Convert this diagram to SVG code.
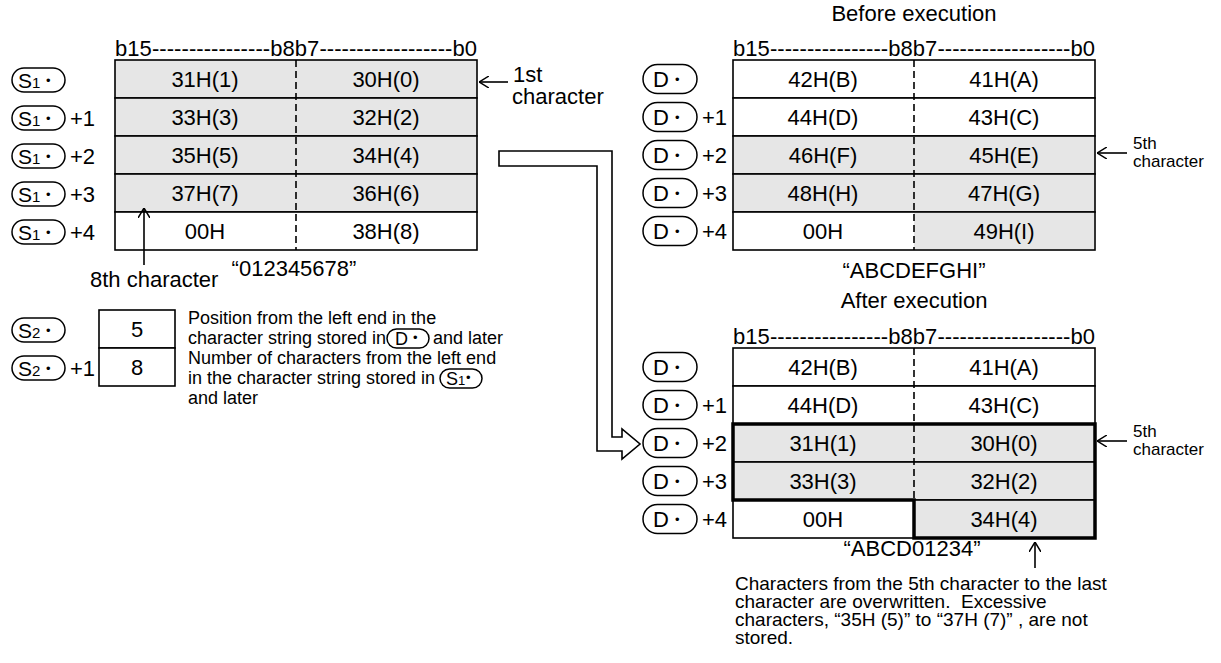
<svg xmlns="http://www.w3.org/2000/svg" width="1221" height="663" viewBox="0 0 1221 663">
<style>
text{font-family:"Liberation Sans",Arial,Helvetica,sans-serif;fill:#000}
.c{font-size:22px;text-anchor:middle}
.l{font-size:22px}
.sl{font-size:21px}
.d{font-size:18px}
.p{font-size:19px}
.s{font-size:17px}
.dot{font-size:13px}
.cell{stroke:#000;stroke-width:1.6}
.g{fill:#e6e6e6}
.w{fill:#fff}
.mid{stroke:#000;stroke-width:1.6;stroke-dasharray:7 4;fill:none}
.st{fill:#fff;stroke:#000;stroke-width:1.5}
.ln{stroke:#000;stroke-width:1.6;fill:none}
.bold{fill:none;stroke:#000;stroke-width:3.5;stroke-linejoin:miter}
</style>
<defs>
<marker id="ah" viewBox="0 0 10 12" refX="10" refY="6" markerWidth="10" markerHeight="12" orient="auto" markerUnits="userSpaceOnUse">
<path d="M0,0 L10,6 L0,12" fill="none" stroke="#000" stroke-width="1.5"/>
</marker>
</defs>

<g id="source-table">
<text class="l" x="115" y="56" textLength="362" lengthAdjust="spacing">b15----------------b8b7------------------b0</text>
<rect class="cell g" x="115" y="60" width="362" height="38"/>
<rect class="cell g" x="115" y="98" width="362" height="38"/>
<rect class="cell g" x="115" y="136" width="362" height="38"/>
<rect class="cell g" x="115" y="174" width="362" height="38"/>
<rect class="cell w" x="115" y="212" width="362" height="38"/>
<line class="mid" x1="296" y1="60" x2="296" y2="250"/>
<text class="c" x="205" y="87">31H(1)</text><text class="c" x="386" y="87">30H(0)</text>
<text class="c" x="205" y="125">33H(3)</text><text class="c" x="386" y="125">32H(2)</text>
<text class="c" x="205" y="163">35H(5)</text><text class="c" x="386" y="163">34H(4)</text>
<text class="c" x="205" y="201">37H(7)</text><text class="c" x="386" y="201">36H(6)</text>
<text class="c" x="205" y="239">00H</text><text class="c" x="386" y="239">38H(8)</text>
<text class="c" x="294" y="276">“012345678”</text>
</g>

<g id="source-labels">
<rect class="st" x="12" y="68" width="53" height="24" rx="12"/>
<text class="sl" x="18" y="88">S<tspan font-size="15">1</tspan></text><text class="dot" x="46" y="85">•</text>
<rect class="st" x="12" y="106" width="53" height="24" rx="12"/>
<text class="sl" x="18" y="126">S<tspan font-size="15">1</tspan></text><text class="dot" x="46" y="123">•</text>
<text class="l" x="70" y="126">+1</text>
<rect class="st" x="12" y="144" width="53" height="24" rx="12"/>
<text class="sl" x="18" y="164">S<tspan font-size="15">1</tspan></text><text class="dot" x="46" y="161">•</text>
<text class="l" x="70" y="164">+2</text>
<rect class="st" x="12" y="182" width="53" height="24" rx="12"/>
<text class="sl" x="18" y="202">S<tspan font-size="15">1</tspan></text><text class="dot" x="46" y="199">•</text>
<text class="l" x="70" y="202">+3</text>
<rect class="st" x="12" y="220" width="53" height="24" rx="12"/>
<text class="sl" x="18" y="240">S<tspan font-size="15">1</tspan></text><text class="dot" x="46" y="237">•</text>
<text class="l" x="70" y="240">+4</text>
</g>

<g id="note-1st">
<text class="l" x="513" y="82">1st</text>
<text class="l" x="512" y="104">character</text>
</g>
<g id="note-8th">
<text class="l" x="90" y="287">8th character</text>
</g>

<g id="s2-block">
<rect class="st" x="12" y="318" width="53" height="24" rx="12"/>
<text class="sl" x="18" y="338">S<tspan font-size="15">2</tspan></text><text class="dot" x="46" y="335">•</text>
<rect class="st" x="12" y="356" width="53" height="24" rx="12"/>
<text class="sl" x="18" y="376">S<tspan font-size="15">2</tspan></text><text class="dot" x="46" y="373">•</text>
<text class="l" x="70" y="376">+1</text>
<rect class="cell w" x="99" y="310" width="76" height="38"/>
<rect class="cell w" x="99" y="348" width="76" height="38"/>
<text class="c" x="137" y="337">5</text>
<text class="c" x="137" y="375">8</text>
<text class="d" x="188" y="324">Position from the left end in the</text>
<text class="d" x="188" y="344">character string stored in</text>
<rect class="st" x="387" y="329" width="42" height="19" rx="9.5"/>
<text class="d" x="395" y="345">D</text><text class="dot" x="413" y="342" font-size="11">•</text>
<text class="d" x="433" y="344">and later</text>
<text class="d" x="188" y="364">Number of characters from the left end</text>
<text class="d" x="188" y="384">in the character string stored in</text>
<rect class="st" x="440" y="369" width="42" height="19" rx="9.5"/>
<text class="d" x="446" y="385">S<tspan font-size="13">1</tspan></text><text class="dot" x="466" y="382" font-size="11">•</text>
<text class="d" x="188" y="404">and later</text>
</g>

<g id="before-table">
<text class="c" x="914" y="21">Before execution</text>
<text class="l" x="733" y="56" textLength="362" lengthAdjust="spacing">b15----------------b8b7------------------b0</text>
<rect class="cell w" x="733" y="60" width="362" height="38"/>
<rect class="cell w" x="733" y="98" width="362" height="38"/>
<rect class="cell g" x="733" y="136" width="362" height="38"/>
<rect class="cell g" x="733" y="174" width="362" height="38"/>
<rect class="cell w" x="733" y="212" width="362" height="38"/>
<rect class="g" x="914" y="213" width="180" height="36"/>
<line class="mid" x1="914" y1="60" x2="914" y2="250"/>
<text class="c" x="823" y="87">42H(B)</text><text class="c" x="1004" y="87">41H(A)</text>
<text class="c" x="823" y="125">44H(D)</text><text class="c" x="1004" y="125">43H(C)</text>
<text class="c" x="823" y="163">46H(F)</text><text class="c" x="1004" y="163">45H(E)</text>
<text class="c" x="823" y="201">48H(H)</text><text class="c" x="1004" y="201">47H(G)</text>
<text class="c" x="823" y="239">00H</text><text class="c" x="1004" y="239">49H(I)</text>
<text class="c" x="914" y="278">“ABCDEFGHI”</text>
<text class="s" x="1133" y="149">5th</text>
<text class="s" x="1133" y="167">character</text>
</g>

<g id="before-labels">
<rect class="st" x="643" y="64.5" width="54" height="29" rx="14.5"/>
<text class="l" x="653" y="87">D</text><text class="dot" x="675" y="84">•</text>
<rect class="st" x="643" y="102.5" width="54" height="29" rx="14.5"/>
<text class="l" x="653" y="125">D</text><text class="dot" x="675" y="122">•</text>
<text class="l" x="702" y="125">+1</text>
<rect class="st" x="643" y="140.5" width="54" height="29" rx="14.5"/>
<text class="l" x="653" y="163">D</text><text class="dot" x="675" y="160">•</text>
<text class="l" x="702" y="163">+2</text>
<rect class="st" x="643" y="178.5" width="54" height="29" rx="14.5"/>
<text class="l" x="653" y="201">D</text><text class="dot" x="675" y="198">•</text>
<text class="l" x="702" y="201">+3</text>
<rect class="st" x="643" y="216.5" width="54" height="29" rx="14.5"/>
<text class="l" x="653" y="239">D</text><text class="dot" x="675" y="236">•</text>
<text class="l" x="702" y="239">+4</text>
</g>

<g id="after-table">
<text class="c" x="914" y="308">After execution</text>
<text class="l" x="733" y="344" textLength="362" lengthAdjust="spacing">b15----------------b8b7------------------b0</text>
<rect class="cell w" x="733" y="348" width="362" height="38"/>
<rect class="cell w" x="733" y="386" width="362" height="38"/>
<rect class="cell g" x="733" y="424" width="362" height="38"/>
<rect class="cell g" x="733" y="462" width="362" height="38"/>
<rect class="cell w" x="733" y="500" width="181" height="38"/>
<rect class="cell g" x="914" y="500" width="181" height="38"/>
<line class="mid" x1="914" y1="348" x2="914" y2="500"/>
<path class="bold" d="M733,424 H1095 V538 H914 V500 H733 Z"/>
<text class="c" x="823" y="375">42H(B)</text><text class="c" x="1004" y="375">41H(A)</text>
<text class="c" x="823" y="413">44H(D)</text><text class="c" x="1004" y="413">43H(C)</text>
<text class="c" x="823" y="451">31H(1)</text><text class="c" x="1004" y="451">30H(0)</text>
<text class="c" x="823" y="489">33H(3)</text><text class="c" x="1004" y="489">32H(2)</text>
<text class="c" x="823" y="527">00H</text><text class="c" x="1004" y="527">34H(4)</text>
<text class="c" x="912" y="556">“ABCD01234”</text>
<text class="s" x="1133" y="437">5th</text>
<text class="s" x="1133" y="455">character</text>
<text class="p" x="735" y="590">Characters from the 5th character to the last</text>
<text class="p" x="735" y="608">character are overwritten.&#160; Excessive</text>
<text class="p" x="735" y="626">characters, “35H (5)” to “37H (7)” , are not</text>
<text class="p" x="735" y="644">stored.</text>
</g>

<g id="after-labels">
<rect class="st" x="643" y="352.5" width="54" height="29" rx="14.5"/>
<text class="l" x="653" y="375">D</text><text class="dot" x="675" y="372">•</text>
<rect class="st" x="643" y="390.5" width="54" height="29" rx="14.5"/>
<text class="l" x="653" y="413">D</text><text class="dot" x="675" y="410">•</text>
<text class="l" x="702" y="413">+1</text>
<rect class="st" x="643" y="428.5" width="54" height="29" rx="14.5"/>
<text class="l" x="653" y="451">D</text><text class="dot" x="675" y="448">•</text>
<text class="l" x="702" y="451">+2</text>
<rect class="st" x="643" y="466.5" width="54" height="29" rx="14.5"/>
<text class="l" x="653" y="489">D</text><text class="dot" x="675" y="486">•</text>
<text class="l" x="702" y="489">+3</text>
<rect class="st" x="643" y="504.5" width="54" height="29" rx="14.5"/>
<text class="l" x="653" y="527">D</text><text class="dot" x="675" y="524">•</text>
<text class="l" x="702" y="527">+4</text>
</g>

<g id="connectors">
<path class="ln" style="fill:#fff;stroke-linejoin:miter" d="M499,151 H612 V437 H622 V429 L640,444 L622,459 V451 H597 V166 H499 Z"/>
<line class="ln" x1="508" y1="82" x2="479" y2="82" marker-end="url(#ah)"/>
<line class="ln" x1="144" y1="265" x2="144" y2="208" marker-end="url(#ah)"/>
<line class="ln" x1="1127" y1="153" x2="1097" y2="153" marker-end="url(#ah)"/>
<line class="ln" x1="1127" y1="441" x2="1097" y2="441" marker-end="url(#ah)"/>
<line class="ln" x1="1035" y1="568" x2="1035" y2="542" marker-end="url(#ah)"/>
</g>
</svg>
